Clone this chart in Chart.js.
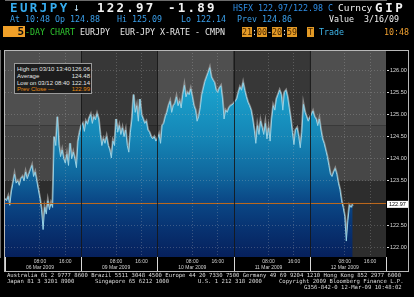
<!DOCTYPE html>
<html><head><meta charset="utf-8">
<script src="https://cdn.jsdelivr.net/npm/chart.js@4"></script>
<style>
body{margin:0;background:#000;width:414px;height:297px;overflow:hidden;position:relative}
canvas{position:absolute;left:0;top:0}
.t{position:absolute;white-space:pre;font-family:'DejaVu Sans Mono',monospace;line-height:1}
.b{font-weight:bold}
.box{background:#e39a26;color:#4a2800;text-align:center}
.leg{position:absolute;left:14px;top:63px;width:76px;height:29px;background:#1d1d1d;border:1px solid #9a9a9a;overflow:hidden;font-family:'Liberation Sans',Arial,sans-serif;font-size:6px;color:#e4e4e4}
.leg div{position:absolute;left:2px;right:1px;height:7px;line-height:7px}
.leg span{position:absolute;right:0}
</style></head>
<body>
<canvas id="c" width="414" height="297"></canvas>

<!-- header line 1 -->
<span class="t b" style="left:10px;top:2px;font-size:12.5px;letter-spacing:2.4px;color:#36acef">EURJPY</span>
<span class="t" style="left:73px;top:2px;font-size:11px;color:#bfe3f7">↓</span>
<span class="t b" style="left:97px;top:2px;font-size:12.5px;letter-spacing:2.2px;color:#f2f2f2">122.97</span>
<span class="t b" style="left:168px;top:2px;font-size:12.5px;letter-spacing:2.2px;color:#f2f2f2">-1.89</span>
<span class="t" style="left:233px;top:3.5px;font-size:8.3px;color:#2f8ee6">HSFX 122.97/122.98 C</span>
<span class="t" style="left:338px;top:3px;font-size:9.5px;color:#f0f0f0">Curncy</span>
<span class="t b" style="left:375px;top:2px;font-size:12.5px;letter-spacing:2.6px;color:#f2f2f2">GIP</span>
<!-- header line 2 -->
<span class="t" style="left:10px;top:15px;font-size:8.3px;color:#3a9fea">At 10:48 Op 124.88</span>
<span class="t" style="left:117px;top:15px;font-size:8.3px;color:#3a9fea">Hi 125.09</span>
<span class="t" style="left:181px;top:15px;font-size:8.3px;color:#3a9fea">Lo 122.14</span>
<span class="t" style="left:237px;top:15px;font-size:8.3px;color:#3a9fea">Prev 124.86</span>
<span class="t" style="left:329px;top:15px;font-size:8.3px;color:#f0f0f0">Value</span>
<span class="t" style="left:364px;top:15px;font-size:8.3px;color:#f0f0f0">3/16/09</span>
<!-- header line 3 -->
<span class="t b" style="left:3px;top:26px;width:21px;height:11px;background:#f0a028;color:#111;font-size:11px;text-align:right;padding-right:1px">5</span>
<span class="t" style="left:25px;top:28px;font-size:8.3px;color:#2fc52f">-DAY CHART</span>
<span class="t" style="left:80px;top:28px;font-size:8.3px;color:#e8e8e8">EURJPY</span>
<span class="t" style="left:120px;top:28px;font-size:8.3px;color:#e8e8e8">EUR-JPY X-RATE - CMPN</span>
<span class="t box" style="left:242px;top:27px;width:10px;height:10px;font-size:8.3px;line-height:10px">21</span>
<span class="t" style="left:252px;top:28px;font-size:8.3px;color:#e8e8e8">:</span>
<span class="t box" style="left:257px;top:27px;width:10px;height:10px;font-size:8.3px;line-height:10px">00</span>
<span class="t" style="left:267px;top:28px;font-size:8.3px;color:#e8e8e8">-</span>
<span class="t box" style="left:272px;top:27px;width:10px;height:10px;font-size:8.3px;line-height:10px">20</span>
<span class="t" style="left:282px;top:28px;font-size:8.3px;color:#e8e8e8">:</span>
<span class="t box" style="left:287px;top:27px;width:10px;height:10px;font-size:8.3px;line-height:10px">59</span>
<span class="t box" style="left:307px;top:27px;width:7px;height:10px;font-size:8.3px;line-height:10px">T</span>
<span class="t" style="left:319px;top:28px;font-size:8.3px;color:#3fb6ea">Trade</span>
<span class="t" style="left:384px;top:28px;font-size:8.3px;color:#f0a030">10:48</span>

<!-- stats box -->
<div class="leg">
 <div style="top:2px">High on 03/10 13:40<span>126.06</span></div>
 <div style="top:8.8px">Average<span>124.48</span></div>
 <div style="top:15.6px">Low on 03/12 08:40<span>122.14</span></div>
 <div style="top:22.4px;color:#e88a10">Prev Close —<span>122.99</span></div>
</div>

<!-- footer -->
<span class="t" style="left:7px;top:273px;font-size:5.6px;color:#dcdcdc">Australia 61 2 9777 8600 Brazil 5511 3048 4500 Europe 44 20 7330 7500 Germany 49 69 9204 1210 Hong Kong 852 2977 6000</span>
<span class="t" style="left:7px;top:279px;font-size:5.6px;color:#dcdcdc">Japan 81 3 3201 8900</span>
<span class="t" style="left:95px;top:279px;font-size:5.6px;color:#dcdcdc">Singapore 65 6212 1000</span>
<span class="t" style="left:198px;top:279px;font-size:5.6px;color:#dcdcdc">U.S. 1 212 318 2000</span>
<span class="t" style="left:279px;top:279px;font-size:5.6px;color:#dcdcdc">Copyright 2009 Bloomberg Finance L.P.</span>
<span class="t" style="left:304px;top:285px;font-size:5.6px;color:#dcdcdc">G356-842-0 12-Mar-09 10:48:02</span>

<script>
// ---- data (EUR-JPY, 30-minute samples, session 21:00-20:59) ----
const dayLabels = ['06 Mar 2009', '09 Mar 2009', '10 Mar 2009', '11 Mar 2009', '12 Mar 2009'];
const tickTimes = ['08:00', '16:00'];
const stepHours = 0.5;
const mar06 = [123.10,123.05,123.15,122.95,123.25,123.45,123.65,123.45,123.50,123.40,123.55,123.60,
               123.50,123.70,123.55,123.65,123.75,123.85,123.60,123.70,123.50,123.30,123.10,122.85,
               122.40,122.90,122.75,123.05,122.85,123.00,122.90,124.50,124.30,124.95,124.30,124.05,
               124.20,124.00,123.90,124.10,123.85,124.35,124.00,124.15,124.00,123.80,124.40,124.60];
const mar09 = [124.75,124.80,124.62,124.85,124.78,124.92,125.00,124.80,124.95,124.88,125.02,124.90,
               124.55,124.30,124.45,124.35,124.50,124.30,124.20,124.02,124.40,124.30,124.90,124.60,
               124.75,124.55,124.70,124.50,124.65,124.30,124.15,124.60,124.90,125.45,125.05,125.20,
               124.85,125.35,125.00,124.90,124.80,124.85,124.65,124.60,124.50,124.45,124.50,124.40];
const mar10 = [124.45,124.55,124.35,124.75,124.80,124.95,125.05,125.20,125.30,125.05,125.20,125.25,
               125.40,125.20,125.30,125.15,125.45,125.66,125.40,125.50,125.45,125.58,125.40,125.20,
               125.10,124.85,124.95,125.15,125.45,125.60,125.75,125.85,125.95,126.06,125.85,125.78,
               125.72,125.55,125.50,125.60,125.65,125.35,124.90,125.10,125.05,125.15,125.20,125.22];
const mar11 = [125.25,125.30,125.35,125.50,125.62,125.55,125.72,125.55,125.40,125.28,125.20,125.10,
               124.90,124.65,124.35,124.75,124.55,124.85,124.70,124.55,124.80,124.45,124.70,124.40,
               124.90,125.20,125.10,125.35,125.45,125.55,125.45,125.10,125.50,125.55,125.40,125.15,
               124.90,124.60,124.32,124.65,124.70,124.50,124.25,124.60,125.23,125.05,124.95,124.85];
const mar12 = [124.93,125.00,125.08,124.95,124.90,124.75,124.90,124.65,124.45,124.35,124.20,124.05,
               123.85,123.65,123.60,123.70,123.78,123.65,123.45,123.30,123.05,122.90,122.70,122.14,
               122.60,122.95,122.90,122.97];
const prevClose = 122.99;
const lastValue = 122.97;
const yTickValues = [122.00,122.50,123.00,123.50,124.00,124.50,125.00,125.50,126.00];
const bandEdges = [124.75, 123.50];

const prices = [].concat(mar06, mar09, mar10, mar11, mar12);
const series = prices.map((v, i) => ({x: i * stepHours, y: v}));
const totalHours = dayLabels.length * 24;
const prevLine = [{x: 0, y: prevClose}, {x: totalHours, y: prevClose}];
const xTickValues = [];
dayLabels.forEach((d, i) => { xTickValues.push(i * 24 + 11, i * 24 + 19); });

function fillGradient(context) {
  const chart = context.chart;
  const a = chart.chartArea;
  if (!a) return '#1580b0';
  const g = chart.ctx.createLinearGradient(0, a.top, 0, a.bottom);
  g.addColorStop(0.00, '#22b4e0');
  g.addColorStop(0.20, '#1aa0cc');
  g.addColorStop(0.42, '#1586b6');
  g.addColorStop(0.60, '#10689e');
  g.addColorStop(0.72, '#0b4a88');
  g.addColorStop(0.85, '#083473');
  g.addColorStop(1.00, '#06205c');
  return g;
}

const bgPlugin = {
  id: 'bbgBack',
  beforeDraw(chart) {
    const {ctx, chartArea: a, scales: {x, y}} = chart;
    ctx.save();
    ctx.fillStyle = '#000';
    ctx.fillRect(0, 0, chart.width, chart.height);
    const yb1 = y.getPixelForValue(bandEdges[0]);
    const yb2 = y.getPixelForValue(bandEdges[1]);
    const light = ['#4f4f4f', '#474747', '#2d2d2d'];
    const dark = ['#373737', '#323232', '#272727'];
    for (let d = 0; d < dayLabels.length; d++) {
      const x0 = x.getPixelForValue(d * 24), x1 = x.getPixelForValue((d + 1) * 24);
      const c = d % 2 === 0 ? light : dark;
      ctx.fillStyle = c[0]; ctx.fillRect(x0, a.top, x1 - x0, yb1 - a.top);
      ctx.fillStyle = c[1]; ctx.fillRect(x0, yb1, x1 - x0, yb2 - yb1);
      ctx.fillStyle = c[2]; ctx.fillRect(x0, yb2, x1 - x0, a.bottom - yb2);
    }
    ctx.restore();
  },
  afterDraw(chart) {
    const {ctx, chartArea: a, scales: {x, y}} = chart;
    ctx.save();
    ctx.lineWidth = 1;
    // day separators inside plot
    ctx.strokeStyle = 'rgba(22,22,22,0.85)';
    for (let d = 1; d < dayLabels.length; d++) {
      const px = Math.round(x.getPixelForValue(d * 24)) + 0.5;
      ctx.beginPath(); ctx.moveTo(px, a.top); ctx.lineTo(px, a.bottom); ctx.stroke();
    }
    // x-axis box
    const axB = x.bottom;
    ctx.strokeStyle = '#d8d8d8';
    for (let d = 0; d <= dayLabels.length; d++) {
      const px = Math.round(x.getPixelForValue(d * 24)) + 0.5;
      ctx.beginPath(); ctx.moveTo(px, a.bottom); ctx.lineTo(px, axB); ctx.stroke();
    }
    ctx.beginPath(); ctx.moveTo(a.left, axB - 0.5); ctx.lineTo(y.right, axB - 0.5); ctx.stroke();
    // outer frame
    ctx.strokeStyle = '#b8b8b8';
    ctx.strokeRect(a.left - 0.5, a.top + 0.5, y.right - a.left, axB - a.top - 1);
    // last value marker
    const ly = y.getPixelForValue(lastValue);
    ctx.fillStyle = '#ffffff';
    ctx.fillRect(y.left + 1, ly - 3.5, y.right - y.left - 2, 7);
    ctx.fillStyle = '#000';
    ctx.font = '5.5px "Liberation Sans"';
    ctx.textBaseline = 'middle';
    ctx.textAlign = 'left';
    ctx.fillText(lastValue.toFixed(2), y.left + 3, ly + 0.3);
    ctx.restore();
  }
};

new Chart(document.getElementById('c'), {
  type: 'line',
  data: {
    datasets: [
      {data: prevLine, borderColor: '#c0691c', borderWidth: 1, pointRadius: 0, fill: false, order: 0},
      {data: series, borderColor: '#95d2e6', borderWidth: 1, pointRadius: 0, fill: 'start',
       backgroundColor: fillGradient, order: 1},
      {data: series, borderColor: 'rgba(150,150,150,0.85)', borderWidth: 2.4, pointRadius: 0, fill: false, order: 2}
    ]
  },
  options: {
    responsive: false,
    animation: false,
    devicePixelRatio: 1,
    layout: {padding: {left: 5, top: 50, right: 5, bottom: 25}},
    plugins: {legend: {display: false}, tooltip: {enabled: false}},
    scales: {
      x: {
        type: 'linear', min: 0, max: totalHours,
        afterBuildTicks: s => { s.ticks = xTickValues.map(v => ({value: v})); },
        afterFit: s => { s.height = 15; },
        ticks: {
          autoSkip: false, maxRotation: 0, padding: 1, color: '#d2d2d2',
          font: {family: 'Liberation Sans', size: 5, lineHeight: 1.3},
          callback: v => {
            const d = Math.floor(v / 24), h = v % 24;
            return h === 11 ? [tickTimes[0], dayLabels[d]] : tickTimes[1];
          }
        },
        grid: {color: 'rgba(190,190,190,0.28)', drawTicks: false, z: 1},
        border: {color: '#d8d8d8', dash: [1, 2]}
      },
      y: {
        position: 'right', min: 121.78, max: 126.46,
        afterBuildTicks: s => { s.ticks = yTickValues.map(v => ({value: v})); },
        afterFit: s => { s.width = 23; },
        ticks: {
          autoSkip: false, padding: 1, color: '#d8d8d8',
          font: {family: 'Liberation Sans', size: 5.5},
          callback: v => Number(v).toFixed(2)
        },
        grid: {
          color: c => (c.tick && Math.abs(c.tick.value - prevClose) < 0.05) ? 'rgba(0,0,0,0)' : 'rgba(190,190,190,0.28)',
          tickColor: '#d8d8d8', tickLength: 3, z: 1
        },
        border: {color: '#d8d8d8', dash: [1, 2]}
      }
    }
  },
  plugins: [bgPlugin]
});
</script>
</body></html>
